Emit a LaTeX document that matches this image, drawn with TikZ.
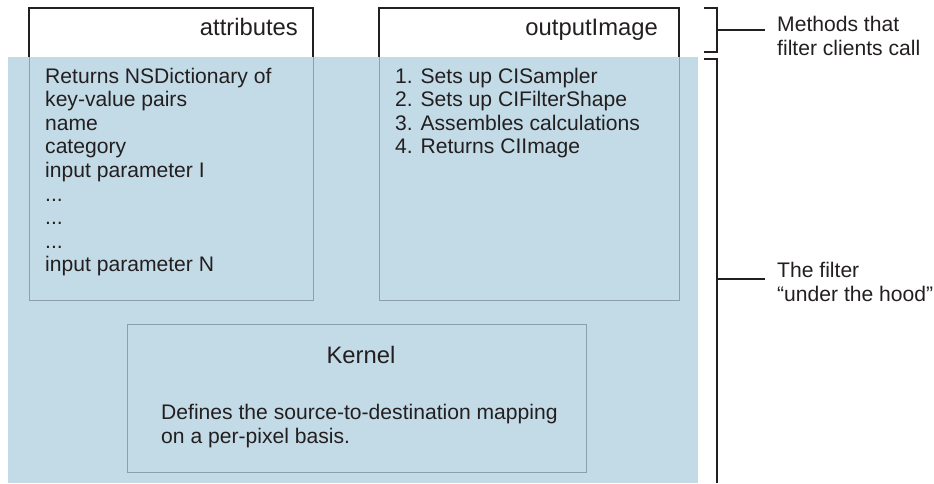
\documentclass[tikz,border=0pt]{standalone}
\usepackage{fontspec}
\setmainfont{Liberation Sans}
\definecolor{filterblue}{HTML}{C3DBE7}
\definecolor{boxgray}{HTML}{8C9FAA}
\definecolor{ink}{HTML}{231F20}
\tikzset{
  txt/.style={font=\fontsize{21.1}{23.6}\selectfont, inner sep=0pt, align=left, text=ink},
  ttl/.style={font=\fontsize{23.8}{26}\selectfont, inner sep=0pt, text=ink},
  panel/.style={draw=boxgray, line width=1.4pt, inner sep=0pt},
  topedge/.style={draw=ink, line width=1.4pt},
  bracket/.style={draw=ink, line width=1.5pt},
}
\begin{document}
\begin{tikzpicture}[x=1pt,y=-1pt]
\useasboundingbox (0,0) rectangle (934,483);
% blue background of the filter
\fill[filterblue] (8,57) rectangle (698,483);
% panels
\node[panel, minimum width=284pt, minimum height=292pt, anchor=north west] (attr) at (29,8) {};
\node[panel, minimum width=300pt, minimum height=292pt, anchor=north west] (outimg) at (379,8) {};
\node[panel, minimum width=459pt, minimum height=148pt, anchor=north west] (kernel) at (127,324) {};
% white method headers
\fill[white] (29,8) rectangle (313,57);
\fill[white] (379,8) rectangle (679,57);
\draw[topedge] (29,57) -- (29,8) -- (313,8) -- (313,57);
\draw[topedge] (379,57) -- (379,8) -- (679,8) -- (679,57);
% texts (base anchor = baseline of the last line)
\node[ttl, anchor=base east] (attrtitle) at (298,35) {attributes};
\node[ttl, anchor=base east] (outtitle) at (658,35) {outputImage};
\node[txt, anchor=base west] (attrlist) at (45,271.8) {Returns NSDictionary of\\key-value pairs\\name\\category\\input parameter I\\...\\...\\...\\input parameter N};
\node[txt, anchor=base west] (outlist) at (395,153.8) {1. Sets up CISampler\\2. Sets up CIFilterShape\\3. Assembles calculations\\4. Returns CIImage};
\node[ttl, anchor=base] (ktitle) at (361,363) {Kernel};
\node[txt, anchor=base west] (kdesc) at (161,443) {Defines the source-to-destination mapping\\on a per-pixel basis.};
% brackets
\coordinate (b1t) at (704,8);
\coordinate (b1b) at (704,52);
\coordinate (b1m) at (717,30);
\coordinate (b1e) at (765,30);
\draw[bracket] (b1t) -- (717,8) -- (717,52) -- (b1b);
\draw[bracket] (b1m) -- (b1e);
\coordinate (b2t) at (704,59);
\coordinate (b2m) at (717,279);
\coordinate (b2e) at (765,279);
\draw[bracket] (b2t) -- (717,59) -- (717,483);
\draw[bracket] (b2m) -- (b2e);
\node[txt, anchor=base west] (lbl1) at (777,55) {Methods that\\filter clients call};
\node[txt, anchor=base west] (lbl2) at (777,301) {The filter\\“under the hood”};
\end{tikzpicture}
\end{document}
